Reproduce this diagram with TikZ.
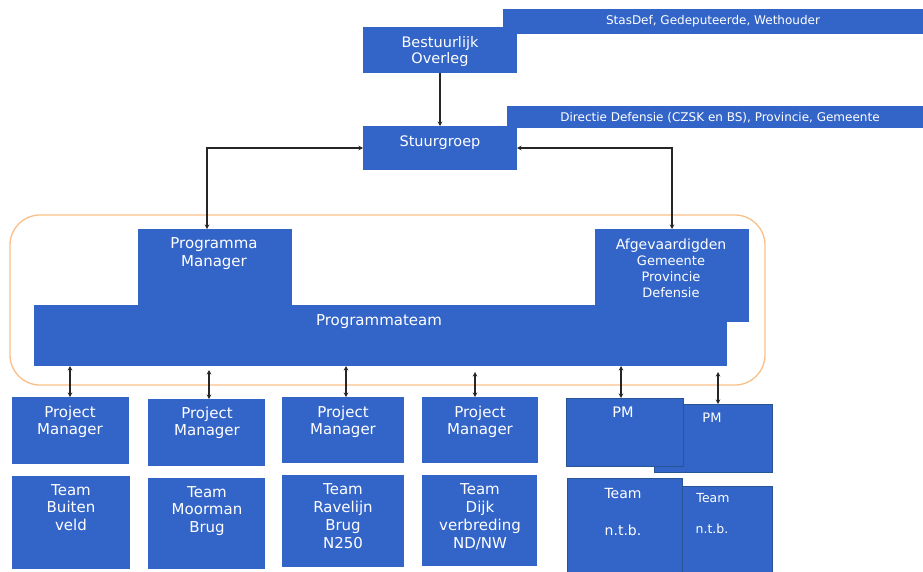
\documentclass[tikz,border=0pt]{standalone}
\usepackage{fontspec}
\setmainfont{DejaVu Sans}
\usetikzlibrary{arrows.meta}
\definecolor{blk}{RGB}{51,100,200}
\definecolor{edgeb}{RGB}{40,85,150}
\definecolor{orng}{RGB}{250,190,135}
\newcommand\myfs[2]{\fontsize{#1}{#2}\selectfont}
\begin{document}
\begin{tikzpicture}[x=1pt,y=-1pt,
  box/.style={fill=blk, draw=none, inner sep=0pt, outer sep=0pt},
  dbox/.style={box, draw=edgeb, line width=0.8pt},
  lbl/.style={text=white, align=center, inner sep=0pt, anchor=base, font=\myfs{15}{17}},
  bartxt/.style={text=white, font=\myfs{12}{14}},
  conn/.style={draw=black!85, line width=1.6pt, {Stealth[length=4.5pt,width=4.5pt]}-{Stealth[length=4.5pt,width=4.5pt]}},
  one/.style={draw=black!85, line width=1.6pt, -{Stealth[length=4.5pt,width=4.5pt]}}]
\useasboundingbox (0,0) rectangle (923,571);

% top
\node[box, bartxt, minimum width=420pt, minimum height=25pt] (stas) at (713,21.5) {StasDef, Gedeputeerde, Wethouder};
\node[box, minimum width=154pt, minimum height=46pt] (best) at (440,50) {};
\node[lbl, font=\myfs{14.5}{16.5}] (bestt) at (440,63.5) {Bestuurlijk\\Overleg};
\node[box, minimum width=416pt, minimum height=22pt] (dir) at (715,117) {};
\node[lbl, font=\myfs{12}{14}] (dirt) at (720,121) {Directie Defensie (CZSK en BS), Provincie, Gemeente};
\node[box, minimum width=154pt, minimum height=44pt] (stuur) at (440,148) {};
\node[lbl, font=\myfs{14.5}{16.5}] (stuurt) at (440,146) {Stuurgroep};

% frame
\node[draw=orng, line width=1.3pt, rounded corners=30pt, minimum width=755pt, minimum height=170pt, inner sep=0pt] (frame) at (387.5,300) {};

% programme team
\node[box, minimum width=154pt, minimum height=78pt] (pgmm) at (215,268) {};
\node[box, minimum width=693pt, minimum height=61pt] (pteam) at (380.5,335.5) {};
\node[box, minimum width=154pt, minimum height=93pt] (afg) at (672,275.5) {};
\node[lbl, font=\myfs{15}{18}] (pgmmt) at (214,266) {Programma\\Manager};
\node[lbl] (pteamt) at (379,325) {Programmateam};
\node[lbl, font=\myfs{14}{16}] (afgt) at (671,249) {Afgevaardigden};
\node[lbl, font=\myfs{13}{16}] (afgl) at (671,297) {Gemeente\\Provincie\\Defensie};

% bottom row
\node[box, minimum width=117pt, minimum height=67pt] (pm1) at (70.5,430.5) {};
\node[box, minimum width=117pt, minimum height=67pt] (pm2) at (206.5,432.5) {};
\node[box, minimum width=122pt, minimum height=66pt] (pm3) at (343,430) {};
\node[box, minimum width=116pt, minimum height=66pt] (pm4) at (480,430) {};
\node[dbox, minimum width=118pt, minimum height=68pt] (pm6) at (713,438) {};
\node[dbox, minimum width=117pt, minimum height=68pt] (pm5) at (624.5,432) {};
\node[lbl] (pm1t) at (70,434) {Project\\Manager};
\node[lbl] (pm2t) at (207,435) {Project\\Manager};
\node[lbl] (pm3t) at (343,434) {Project\\Manager};
\node[lbl] (pm4t) at (480,434) {Project\\Manager};
\node[lbl, font=\myfs{14.5}{17}] (pm5t) at (623,417) {PM};
\node[lbl, font=\myfs{13}{15}] (pm6t) at (712,422) {PM};

\node[box, minimum width=118pt, minimum height=93pt] (t1) at (71,522.5) {};
\node[box, minimum width=117pt, minimum height=91pt] (t2) at (206.5,523.5) {};
\node[box, minimum width=122pt, minimum height=92pt] (t3) at (343,521) {};
\node[box, minimum width=115pt, minimum height=91pt] (t4) at (479.5,520.5) {};
\node[dbox, minimum width=105pt, minimum height=94pt] (t6) at (719.5,533) {};
\node[dbox, minimum width=115pt, minimum height=102pt] (t5) at (624.5,529) {};
\node[lbl, font=\myfs{15}{17.5}] (t1t) at (71,530) {Team\\Buiten\\veld};
\node[lbl, font=\myfs{15}{17.5}] (t2t) at (207,532) {Team\\Moorman\\Brug};
\node[lbl, font=\myfs{15}{17.7}] (t3t) at (343,548) {Team\\Ravelijn\\Brug\\N250};
\node[lbl, font=\myfs{15}{17.7}] (t4t) at (480,548) {Team\\Dijk\\verbreding\\ND/NW};
\node[lbl, font=\myfs{14}{16}] (t5a) at (623,498) {Team};
\node[lbl, font=\myfs{14}{16}] (t5b) at (623,535) {n.t.b.};
\node[lbl, font=\myfs{12.5}{15}] (t6a) at (713,502) {Team};
\node[lbl, font=\myfs{12.5}{15}] (t6b) at (712,533) {n.t.b.};

% connectors
\draw[one] (best.south) -- (stuur.north);
\draw[conn] (stuur.west) -| ([xshift=-8pt]pgmm.north);
\draw[conn] (stuur.east) -| (afg.north);
\draw[conn] ([xshift=-0.5pt]pteam.south -| pm1.north) -- ([xshift=-0.5pt]pm1.north);
\draw[conn] ([xshift=2.5pt,yshift=-4pt]pteam.south -| pm2.north) -- ([xshift=2.5pt]pm2.north);
\draw[conn] ([xshift=3pt]pteam.south -| pm3.north) -- ([xshift=3pt]pm3.north);
\draw[conn] ([xshift=-5pt,yshift=-6pt]pteam.south -| pm4.north) -- ([xshift=-5pt]pm4.north);
\draw[conn] ([xshift=-3.5pt]pteam.south -| pm5.north) -- ([xshift=-3.5pt]pm5.north);
\draw[conn] ([xshift=5pt,yshift=-6pt]pteam.south -| pm6.north) -- ([xshift=5pt]pm6.north);
\end{tikzpicture}
\end{document}
